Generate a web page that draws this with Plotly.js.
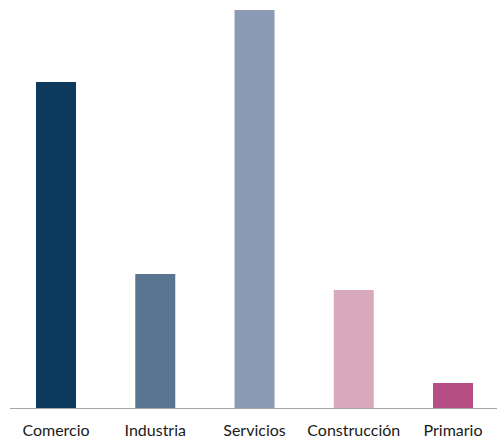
<!DOCTYPE html>
<html><head><meta charset="utf-8">
<script src="https://cdn.plot.ly/plotly-3.0.1.min.js"></script>
<style>html,body{margin:0;padding:0;background:#fff}#c{width:497px;height:444px}</style>
</head><body><div id="c"></div>
<script>
const categories = ["Comercio","Industria","Servicios","Construcción","Primario"];
const values = [32.6, 13.4, 39.8, 11.8, 2.5];
const colors = ["#0B3A5E","#5A7592","#8C9BB5","#D8A8BC","#B54E82"];

Plotly.newPlot("c", [{
  type: "bar",
  x: [0,1,2,3,4],
  y: values,
  width: 0.403,
  marker: {color: colors},
  hoverinfo: "none"
}], {
  width: 497, height: 444,
  margin: {l: 10, r: 0, t: 10, b: 36},
  paper_bgcolor: "#fff", plot_bgcolor: "#fff",
  showlegend: false,
  xaxis: {
    range: [-0.4635, 4.443],
    tickvals: [0,1,2,3,4],
    ticktext: categories,
    showgrid: false, zeroline: false,
    showline: true, linecolor: "#a6a6a6", linewidth: 1,
    ticks: "", ticklabelstandoff: 8,
    tickfont: {family: "Lato, 'Open Sans', sans-serif", size: 16, color: "#1a1a1a"}
  },
  yaxis: {range: [0, 39.8], visible: false, showgrid: false, zeroline: false}
}, {staticPlot: true});
</script></body></html>
